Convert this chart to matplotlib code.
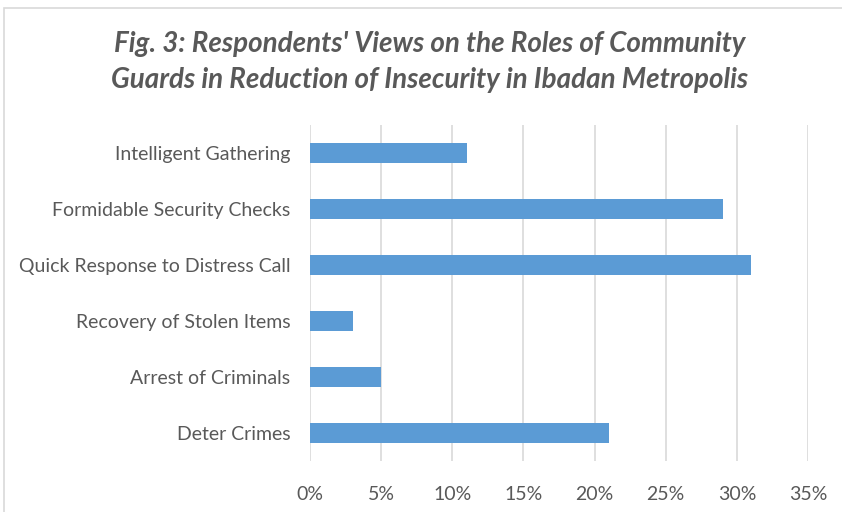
import matplotlib.pyplot as plt
from matplotlib.patches import Rectangle
from matplotlib.ticker import PercentFormatter

# Data
categories = ['Deter Crimes', 'Arrest of Criminals', 'Recovery of Stolen Items',
              'Quick Response to Distress Call', 'Formidable Security Checks',
              'Intelligent Gathering']
values = [21, 5, 3, 31, 29, 11]
xticks = [0, 5, 10, 15, 20, 25, 30, 35]

text_col = '#595959'
plt.rcParams['font.family'] = ['Lato', 'DejaVu Sans']

fig = plt.figure(figsize=(8.42, 5.12), dpi=100)
ax = fig.add_axes([310 / 842, 1 - 461 / 512, 498 / 842, 336 / 512])

# chart border
fig.patches.append(Rectangle((4 / 842, -0.05), 1.1, 1.05 - 8 / 512,
                             transform=fig.transFigure, fill=False,
                             edgecolor='#D9D9D9', linewidth=1.2))

y = range(len(categories))
ax.barh(y, values, height=0.34, color='#5B9BD5', zorder=3)

ax.set_xlim(0, 35)
ax.set_ylim(-0.5, len(categories) - 0.5)
ax.set_xticks(xticks)
ax.xaxis.set_major_formatter(PercentFormatter(decimals=0))
ax.set_yticks(list(y))
ax.set_yticklabels(categories)
ax.tick_params(axis='both', length=0, colors=text_col, labelsize=14)
ax.tick_params(axis='x', pad=18)
ax.tick_params(axis='y', pad=14)
ax.grid(axis='x', color='#D9D9D9', linewidth=1.2, zorder=0)
for s in ax.spines.values():
    s.set_visible(False)

fig.text(430 / 842, 1 - 62 / 512,
         "Fig. 3: Respondents' Views on the Roles of Community\n"
         "Guards in Reduction of Insecurity in Ibadan Metropolis",
         ha='center', va='center', fontsize=20, fontweight='bold',
         fontstyle='italic', color=text_col, linespacing=1.45)

fig.savefig('out.png', dpi=100)
